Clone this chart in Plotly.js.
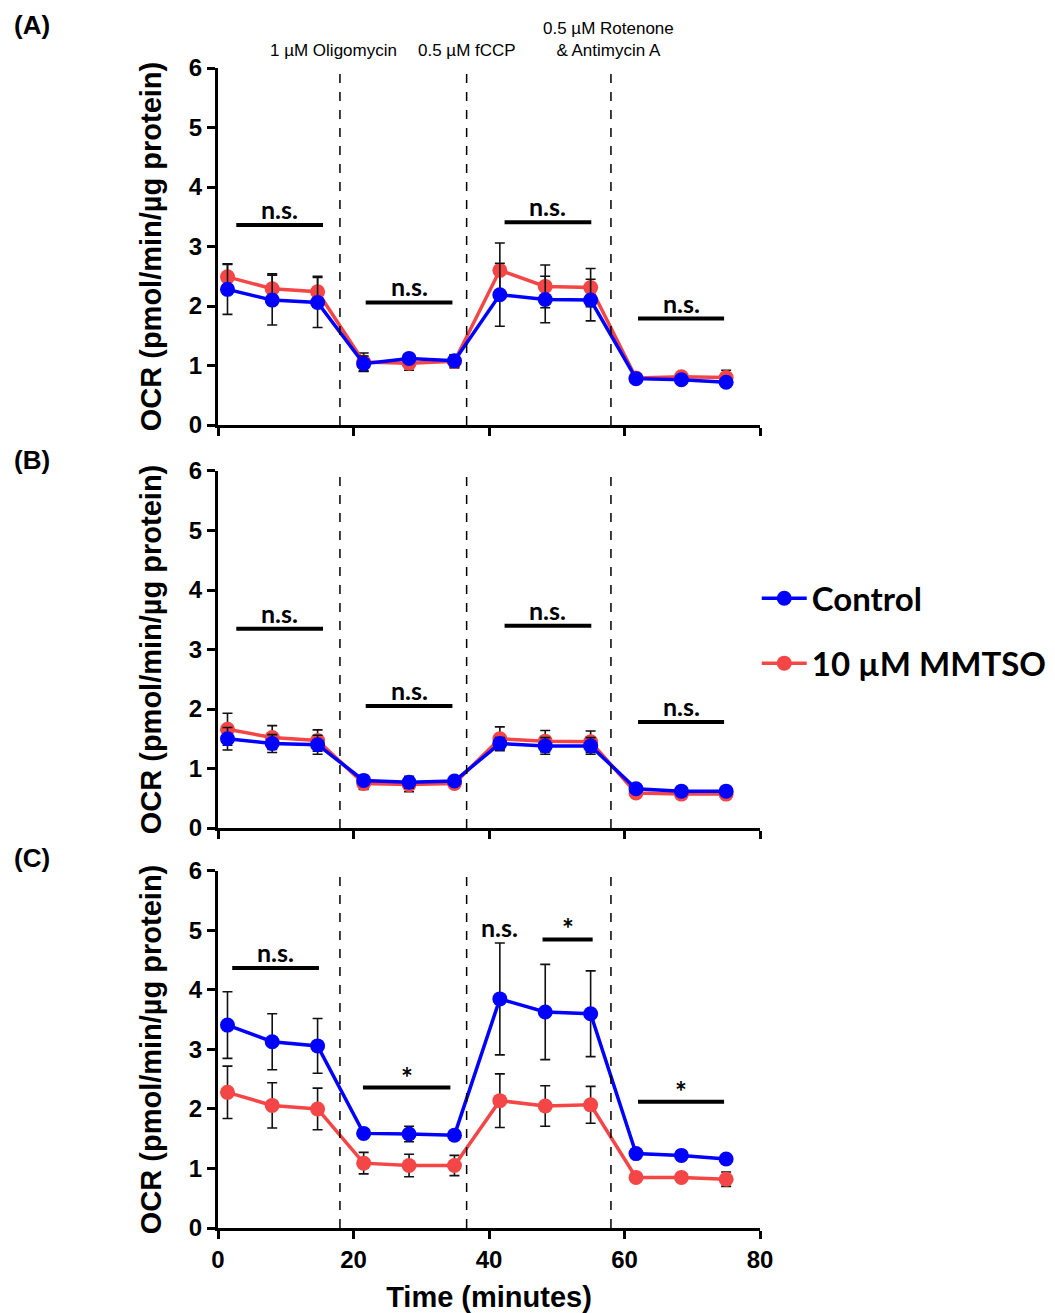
<!DOCTYPE html>
<html>
<head>
<meta charset="utf-8">
<script src="https://cdn.plot.ly/plotly-3.0.1.min.js"></script>
<style>html,body{margin:0;padding:0;background:#fff;}#chart{width:1055px;height:1313px;}</style>
</head>
<body>
<div id="chart"></div>
<script>
// ---- data ----
const time = [1.4, 8.0, 14.7, 21.5, 28.2, 34.9, 41.6, 48.3, 55.0, 61.7, 68.4, 75.0];

const ctrlA     = [2.28, 2.10, 2.06, 1.03, 1.12, 1.08, 2.19, 2.11, 2.10, 0.78, 0.76, 0.72];
const ctrlAErr  = [0.42, 0.42, 0.42, 0.13, 0.05, 0.10, 0.53, 0.39, 0.35, 0.04, 0.04, 0.04];
const mmtsoA    = [2.49, 2.29, 2.24, 1.06, 1.04, 1.07, 2.60, 2.33, 2.31, 0.79, 0.81, 0.80];
const mmtsoAErr = [0.22, 0.25, 0.26, 0.15, 0.12, 0.11, 0.46, 0.36, 0.32, 0.05, 0.06, 0.12];

const ctrlB     = [1.50, 1.42, 1.40, 0.80, 0.77, 0.79, 1.42, 1.38, 1.38, 0.66, 0.62, 0.62];
const ctrlBErr  = [0.19, 0.15, 0.16, 0.08, 0.10, 0.06, 0.10, 0.14, 0.14, 0.04, 0.04, 0.04];
const mmtsoB    = [1.66, 1.52, 1.47, 0.75, 0.73, 0.75, 1.50, 1.46, 1.45, 0.59, 0.57, 0.57];
const mmtsoBErr = [0.27, 0.20, 0.18, 0.10, 0.12, 0.06, 0.20, 0.18, 0.18, 0.04, 0.04, 0.04];

const ctrlC     = [3.41, 3.13, 3.06, 1.59, 1.58, 1.56, 3.85, 3.63, 3.60, 1.25, 1.22, 1.16];
const ctrlCErr  = [0.56, 0.47, 0.46, 0.05, 0.13, 0.05, 0.94, 0.80, 0.72, 0.04, 0.04, 0.04];
const mmtsoC    = [2.28, 2.06, 2.00, 1.09, 1.05, 1.05, 2.14, 2.05, 2.07, 0.85, 0.85, 0.82];
const mmtsoCErr = [0.44, 0.38, 0.35, 0.18, 0.19, 0.17, 0.45, 0.34, 0.31, 0.05, 0.05, 0.12];

// injection times (dashed lines) and their labels
const injectTimes  = [18.0, 36.7, 58.0];
const injectLabels = ["1 µM Oligomycin", "0.5 µM fCCP", "0.5 µM Rotenone<br>& Antimycin A"];
const injectLabelX = [17.0, 36.75, 57.7];

// significance bars: [x start, x end, y, label]
const sigA = [[2.7, 15.5, 3.36, "n.s."], [21.8, 34.6, 2.06, "n.s."], [42.3, 55.1, 3.41, "n.s."], [62.0, 74.7, 1.79, "n.s."]];
const sigB = [[2.7, 15.5, 3.35, "n.s."], [21.8, 34.6, 2.05, "n.s."], [42.3, 55.1, 3.40, "n.s."], [62.0, 74.7, 1.78, "n.s."]];
const sigC = [[2.1, 14.9, 4.37, "n.s."], [21.4, 34.3, 2.36, "*"], [47.9, 55.3, 4.85, "*"], [62.0, 74.7, 2.12, "*"]];
const sigCFree = [[41.5, 5.06, "n.s."]];

const seriesNames = ["Control", "10 µM MMTSO"];
const blue = "#0000FF", red = "#F44646";
const panelLabels = ["(A)", "(B)", "(C)"];
const xTicks = [0, 20, 40, 60, 80];
const yTicks = [0, 1, 2, 3, 4, 5, 6];

// ---- traces ----
const panels = [
  {c: ctrlA, ce: ctrlAErr, m: mmtsoA, me: mmtsoAErr, sig: sigA},
  {c: ctrlB, ce: ctrlBErr, m: mmtsoB, me: mmtsoBErr, sig: sigB},
  {c: ctrlC, ce: ctrlCErr, m: mmtsoC, me: mmtsoCErr, sig: sigC}
];
const traces = [];
panels.forEach((p, i) => {
  const xa = i === 0 ? "x" : "x" + (i + 1), ya = i === 0 ? "y" : "y" + (i + 1);
  const eb = arr => ({type: "data", array: arr, visible: true, color: "#111", thickness: 1.6, width: 5});
  traces.push({x: time, y: p.m, xaxis: xa, yaxis: ya, type: "scatter", mode: "lines+markers",
    name: seriesNames[1], legendgroup: "m", showlegend: i === 0, legendrank: 2,
    line: {color: red, width: 3.5}, marker: {color: red, size: 15}, error_y: eb(p.me)});
  traces.push({x: time, y: p.c, xaxis: xa, yaxis: ya, type: "scatter", mode: "lines+markers",
    name: seriesNames[0], legendgroup: "c", showlegend: i === 0, legendrank: 1,
    line: {color: blue, width: 3.5}, marker: {color: blue, size: 15}, error_y: eb(p.ce)});
});

// ---- layout ----
const tickFont = {family: "Liberation Sans, Arial, sans-serif", size: 24, color: "#000", weight: "bold"};
const domains = [[0.6922, 1], [0.3448, 0.6526], [0, 0.3078]];
const layout = {
  width: 1055, height: 1313,
  margin: {l: 218, r: 295, t: 68, b: 85, autoexpand: false},
  paper_bgcolor: "#fff", plot_bgcolor: "#fff",
  showlegend: true,
  legend: {x: 0.994, xanchor: "left", y: 0.567, yanchor: "top", traceorder: "grouped",
    itemwidth: 45,
    tracegroupgap: 19, font: {family: "Lato, sans-serif", size: 33, color: "#000", weight: "bold"},
    bgcolor: "rgba(0,0,0,0)"},
  shapes: [], annotations: []
};
for (let i = 0; i < 3; i++) {
  const sx = i === 0 ? "" : String(i + 1);
  layout["xaxis" + sx] = {
    domain: [0, 1], anchor: "y" + sx, range: [0, 80], tickvals: xTicks,
    showticklabels: i === 2, ticks: "outside", ticklen: 8, tickwidth: 3, tickcolor: "#000",
    showline: true, linewidth: 3, linecolor: "#000", showgrid: false, zeroline: false,
    tickfont: tickFont, fixedrange: true,
    title: i === 2 ? {text: "Time (minutes)", font: {family: "Liberation Sans, Arial, sans-serif", size: 29, color: "#000", weight: "bold"}, standoff: 15} : {text: ""}
  };
  layout["yaxis" + sx] = {
    domain: domains[i], anchor: "x" + sx, range: [0, 6], tickvals: yTicks,
    ticks: "outside", ticklen: 8, tickwidth: 3, tickcolor: "#000",
    showline: true, linewidth: 3, linecolor: "#000", showgrid: false, zeroline: false,
    tickfont: tickFont, fixedrange: true,
    title: {text: "OCR (pmol/min/µg protein)", font: {family: "Liberation Sans, Arial, sans-serif", size: 29, color: "#000", weight: "bold"}, standoff: 19}
  };
  // dashed injection lines
  injectTimes.forEach(t => layout.shapes.push({type: "line", xref: "x" + sx, yref: "y" + sx,
    x0: t, x1: t, y0: 0, y1: 6, line: {color: "#000", width: 1.5, dash: "dash"}}));
  // significance bars
  panels[i].sig.forEach(s => {
    layout.shapes.push({type: "line", xref: "x" + sx, yref: "y" + sx, x0: s[0], x1: s[1], y0: s[2], y1: s[2],
      line: {color: "#000", width: 4}});
    layout.annotations.push({xref: "x" + sx, yref: "y" + sx, x: (s[0] + s[1]) / 2, y: s[2], text: s[3],
      showarrow: false, yanchor: "bottom", yshift: s[3] === "*" ? -8 : -1,
      font: {family: "Lato, sans-serif", size: s[3] === "*" ? 28 : 25, color: "#000", weight: "bold"}});
  });
  // panel label
  layout.annotations.push({xref: "paper", yref: "paper", x: -0.343, y: [1.037, 0.662, 0.319][i],
    text: panelLabels[i], showarrow: false, xanchor: "center", yanchor: "middle",
    font: {family: "Liberation Sans, Arial, sans-serif", size: 26, color: "#000", weight: "bold"}});
}
sigCFree.forEach(s => layout.annotations.push({xref: "x3", yref: "y3", x: s[0], y: s[1], text: s[2],
  showarrow: false, yanchor: "middle", font: {family: "Lato, sans-serif", size: 25, color: "#000", weight: "bold"}}));
injectLabels.forEach((t, k) => layout.annotations.push({xref: "x", yref: "paper", x: injectLabelX[k], y: 1.0055,
  text: t, showarrow: false, yanchor: "bottom", xanchor: "center",
  font: {family: "Liberation Sans, Arial, sans-serif", size: 17, color: "#000"}}));

Plotly.newPlot("chart", traces, layout, {displayModeBar: false, staticPlot: true});
</script>
</body>
</html>
